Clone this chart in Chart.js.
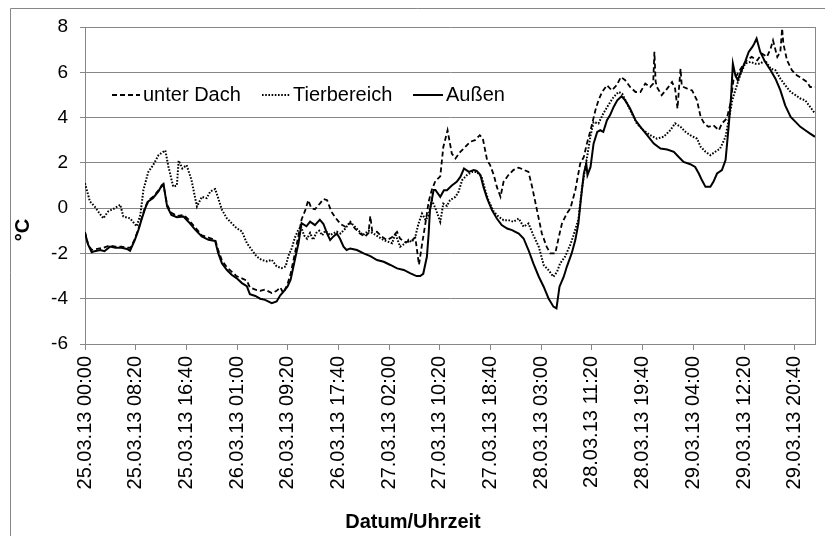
<!DOCTYPE html>
<html>
<head>
<meta charset="utf-8">
<script src="https://cdn.jsdelivr.net/npm/chart.js@4.4.1/dist/chart.umd.min.js"></script>
<style>
  html, body { margin: 0; padding: 0; background: #fff; }
  canvas { display: block; }
</style>
</head>
<body>
<canvas id="myChart" width="825" height="536"></canvas>
<script>
// x tick labels, one every 8:20 h (500 min)
const tickLabels = [
  "25.03.13 00:00", "25.03.13 08:20", "25.03.13 16:40", "26.03.13 01:00",
  "26.03.13 09:20", "26.03.13 17:40", "27.03.13 02:00", "27.03.13 10:20",
  "27.03.13 18:40", "28.03.13 03:00", "28.03.13 11:20", "28.03.13 19:40",
  "29.03.13 04:00", "29.03.13 12:20", "29.03.13 20:40"
];
const tickStepHours = 25 / 3;

// Außen (solid)
const aussenHours = [0, 0.5, 1.1, 1.6, 2.5, 3.2, 4.1, 5.0, 6.0, 6.9, 7.4, 8.2, 8.8, 9.3, 9.9, 10.4, 11.2, 12.1, 12.6, 12.9,
  13.5, 14.2, 15.1, 16.2, 17.0, 18.1, 19.2, 20.3, 21.4, 21.9, 22.5, 23.3, 24.1, 24.9, 25.8, 26.6, 27.1, 28.0, 28.8, 29.6,
  30.7, 31.5, 32.1, 32.6, 33.3, 33.8, 34.5, 35.1, 35.6, 36.4, 37.0, 37.8, 38.6, 39.2, 39.8, 40.3, 40.8, 41.4, 41.9, 42.5,
  43.0, 43.6, 44.7, 45.8, 46.9, 48.0, 49.1, 50.2, 51.3, 52.4, 53.5, 54.5, 55.1, 55.6, 56.2, 56.5, 56.7, 57.0, 57.3, 57.6,
  58.4, 59.0, 59.5, 60.3, 61.1, 61.7, 62.3, 63.1, 63.9, 64.4, 65.0, 65.5, 66.1, 66.9, 67.7, 68.5, 69.4, 70.2, 71.3, 72.1,
  72.9, 73.7, 74.6, 75.4, 76.2, 77.0, 77.5, 78.0, 78.7, 79.2, 80.0, 80.6, 81.1, 81.5, 82.0, 82.4, 82.6, 83.1, 83.6, 84.2,
  84.7, 85.2, 85.8, 86.3, 86.9, 87.5, 88.2, 88.8, 89.6, 90.5, 91.3, 92.4, 93.5, 94.6, 95.7, 96.8, 97.6, 98.4, 99.5, 100.3,
  100.9, 101.4, 102.0, 102.8, 103.3, 103.9, 104.7, 105.3, 105.8, 106.2, 106.5, 106.9, 107.3, 107.8, 108.6, 109.1, 109.7, 110.0, 110.4, 111.0,
  111.8, 112.7, 113.5, 114.3, 115.1, 116.0, 116.8, 117.6, 118.4, 119.2, 120.0];
const aussenTemps = [-1.1, -1.6, -1.95, -1.9, -1.85, -1.9, -1.7, -1.75, -1.75, -1.8, -1.88, -1.4, -0.95, -0.5, 0.0, 0.3, 0.45, 0.75, 1.0, 1.07,
  0.07, -0.3, -0.4, -0.37, -0.6, -0.95, -1.25, -1.4, -1.45, -1.99, -2.43, -2.72, -2.94, -3.09, -3.31, -3.45, -3.8, -3.88, -4.0, -4.05,
  -4.2, -4.12, -3.85, -3.7, -3.46, -3.16, -2.28, -1.54, -0.66, -0.8, -0.6, -0.75, -0.51, -0.7, -1.12, -1.41, -1.26, -1.12, -1.34, -1.7,
  -1.85, -1.78, -1.85, -2.0, -2.12, -2.29, -2.37, -2.51, -2.66, -2.73, -2.88, -3.0, -3.0, -2.9, -2.15, -1.1, -0.1, 0.35, 0.8, 0.8,
  0.5, 0.79, 0.79, 1.0, 1.16, 1.38, 1.75, 1.6, 1.68, 1.65, 1.46, 0.94, 0.43, -0.09, -0.46, -0.75, -0.9, -0.97, -1.12, -1.34,
  -1.85, -2.44, -3.03, -3.47, -3.99, -4.35, -4.43, -3.47, -3.03, -2.59, -2.0, -1.41, -0.68, 0.35, 1.53, 1.97, 1.46, 1.82, 2.85, 3.37,
  3.44, 3.37, 3.88, 4.1, 4.47, 4.76, 4.94, 4.76, 4.4, 3.88, 3.59, 3.22, 2.85, 2.63, 2.59, 2.49, 2.26, 2.04, 1.94, 1.82,
  1.53, 1.24, 0.94, 0.94, 1.16, 1.53, 1.68, 2.12, 3.59, 4.91, 6.38, 5.87, 5.65, 6.01, 6.53, 6.9, 7.12, 7.26, 7.49, 6.9,
  6.46, 6.09, 5.72, 5.21, 4.54, 4.03, 3.81, 3.59, 3.44, 3.29, 3.15];

// unter Dach (dashed)
const dachHours = [0, 0.5, 1.1, 2.0, 3.0, 4.0, 5.0, 6.0, 7.0, 7.5, 8.2, 8.8, 9.3, 9.9, 10.4, 11.2, 12.1, 12.6, 12.9, 13.5,
  14.2, 15.1, 16.2, 17.0, 18.1, 19.2, 20.3, 21.4, 21.9, 22.5, 23.3, 24.1, 24.9, 25.8, 26.6, 27.1, 28.0, 28.8, 29.6, 30.7,
  31.5, 32.1, 32.6, 33.3, 33.8, 34.5, 35.1, 35.6, 36.2, 36.7, 37.2, 37.8, 38.6, 39.2, 39.8, 40.5, 41.1, 42.0, 42.8, 43.6,
  44.4, 45.2, 46.0, 46.6, 46.9, 47.2, 48.0, 48.8, 49.6, 50.4, 51.3, 51.8, 52.6, 53.4, 54.3, 54.9, 55.4, 56.0, 56.5, 57.0,
  57.6, 58.4, 58.9, 59.6, 60.3, 60.9, 61.7, 62.5, 63.3, 64.1, 64.9, 65.4, 66.1, 66.6, 67.2, 67.7, 68.3, 68.8, 69.6, 70.4,
  71.3, 72.1, 72.9, 73.5, 74.3, 75.1, 75.9, 76.5, 77.3, 77.9, 78.4, 79.2, 79.8, 80.6, 81.4, 82.0, 82.5, 83.1, 83.9, 84.4,
  85.0, 85.8, 86.6, 87.4, 88.1, 88.8, 89.6, 90.5, 91.3, 92.1, 92.9, 93.4, 93.6, 93.8, 94.0, 94.8, 95.7, 96.5, 97.0, 97.4,
  97.7, 97.9, 98.1, 98.4, 99.0, 99.8, 100.6, 101.2, 101.8, 102.5, 103.3, 104.2, 104.7, 105.5, 106.1, 106.6, 107.3, 108.0, 108.8, 109.6,
  110.5, 111.3, 112.1, 112.7, 113.1, 113.8, 114.3, 114.6, 114.8, 115.4, 116.2, 117.0, 117.9, 118.7, 119.2, 120.0];
const dachTemps = [-1.05, -1.6, -1.85, -1.8, -1.75, -1.65, -1.7, -1.7, -1.75, -1.75, -1.35, -0.9, -0.45, 0.05, 0.35, 0.5, 0.8, 0.95, 1.02, 0.15,
  -0.2, -0.35, -0.3, -0.5, -0.85, -1.2, -1.3, -1.4, -1.85, -2.3, -2.6, -2.8, -3.0, -3.1, -3.2, -3.5, -3.6, -3.65, -3.6, -3.75,
  -3.65, -3.5, -3.75, -3.35, -2.9, -2.0, -1.2, -0.5, -0.1, 0.35, 0.0, -0.05, 0.2, 0.4, 0.35, -0.15, -0.4, -0.7, -0.82, -0.65,
  -0.9, -1.12, -1.26, -1.1, -0.35, -1.0, -1.05, -1.26, -1.41, -1.3, -1.05, -1.35, -1.5, -1.48, -1.3, -2.5, -1.6, -0.6, 0.3, 0.8,
  1.2, 1.4, 2.7, 3.44, 2.41, 2.19, 2.49, 2.7, 2.93, 3.0, 3.22, 3.07, 2.12, 1.9, 1.46, 0.94, 0.5, 1.16, 1.46, 1.68,
  1.79, 1.7, 1.6, 0.94, -0.09, -1.12, -1.71, -2.0, -2.0, -1.26, -0.68, -0.24, 0.0, 0.79, 1.97, 2.26, 2.85, 3.44, 4.32, 4.76,
  5.13, 5.43, 5.2, 5.43, 5.79, 5.65, 5.35, 5.13, 5.13, 5.5, 5.35, 5.5, 6.9, 5.6, 5.35, 4.99, 5.28, 5.57, 5.28, 4.4,
  5.5, 6.16, 5.4, 5.35, 5.28, 5.2, 4.76, 4.03, 3.74, 3.59, 3.66, 3.44, 3.74, 3.96, 4.62, 5.65, 5.94, 6.24, 6.53, 6.68,
  6.53, 6.82, 6.68, 7.04, 7.41, 6.68, 6.9, 7.93, 7.26, 6.53, 6.09, 5.87, 5.72, 5.57, 5.35, 5.35];

// Tierbereich (dotted)
const tierHours = [0, 0.8, 1.6, 2.3, 3.0, 3.8, 4.9, 5.8, 6.3, 7.4, 8.5, 9.1, 9.6, 10.4, 11.2, 12.1, 13.2, 13.7, 14.5, 15.1,
  15.4, 16.0, 16.7, 17.5, 18.4, 19.2, 20.0, 20.6, 21.4, 21.9, 22.5, 23.3, 24.1, 24.9, 25.8, 26.6, 27.4, 28.2, 29.0, 29.9,
  30.7, 31.5, 32.3, 33.0, 33.4, 34.0, 34.5, 35.0, 35.5, 36.0, 36.5, 37.0, 37.5, 38.0, 38.5, 39.0, 39.5, 40.3, 41.4, 42.0,
  42.8, 43.6, 44.1, 44.9, 45.7, 46.6, 47.4, 48.2, 49.1, 49.9, 50.5, 51.0, 51.8, 52.6, 53.2, 53.7, 54.3, 54.8, 55.4, 56.0,
  56.5, 57.0, 57.6, 58.4, 58.9, 59.5, 60.0, 60.9, 61.4, 62.0, 62.8, 63.6, 64.4, 65.2, 65.8, 66.3, 67.2, 68.0, 68.8, 69.6,
  70.4, 71.3, 72.1, 72.9, 73.7, 74.6, 75.4, 76.2, 77.0, 77.6, 78.1, 78.9, 79.8, 80.3, 81.1, 81.7, 82.5, 83.1, 83.6, 84.4,
  85.2, 86.0, 86.9, 87.7, 88.3, 89.1, 89.9, 90.7, 91.8, 92.9, 94.0, 95.1, 96.2, 97.0, 97.9, 98.7, 99.5, 100.6, 101.2, 102.0,
  102.8, 103.6, 104.4, 105.3, 105.8, 106.4, 106.9, 107.7, 108.5, 109.4, 110.2, 111.0, 111.8, 112.7, 113.5, 114.3, 115.1, 116.0, 116.8, 117.6,
  118.4, 119.2, 120.0];
const tierTemps = [1.1, 0.3, 0.07, -0.2, -0.45, -0.15, 0.0, 0.15, -0.37, -0.45, -0.8, -0.3, 0.8, 1.6, 1.9, 2.35, 2.55, 1.85, 0.95, 1.0,
  2.1, 1.75, 1.9, 1.25, 0.07, 0.5, 0.44, 0.74, 0.84, 0.44, -0.07, -0.44, -0.66, -0.88, -1.03, -1.54, -1.84, -2.13, -2.28, -2.35,
  -2.28, -2.57, -2.65, -2.57, -2.13, -1.76, -1.3, -1.0, -0.8, -1.2, -1.35, -1.1, -1.4, -1.1, -1.0, -1.2, -1.0, -1.19, -1.04, -1.12,
  -0.9, -0.6, -0.75, -0.97, -1.19, -1.0, -1.12, -1.26, -1.41, -1.49, -1.55, -1.12, -1.7, -1.56, -1.4, -1.5, -1.26, -0.7, -0.24, -0.53,
  -0.3, 0.35, 0.0, -0.6, 0.2, 0.1, 0.35, 0.5, 0.72, 1.24, 1.46, 1.6, 1.6, 1.38, 0.79, 0.35, -0.16, -0.38, -0.53, -0.53,
  -0.6, -0.46, -0.82, -0.68, -1.19, -1.71, -2.51, -2.74, -3.03, -2.81, -2.44, -2.15, -1.6, -1.2, -0.5, 0.9, 2.2, 3.2, 3.8, 3.74,
  4.18, 4.54, 4.91, 5.13, 5.06, 4.62, 4.18, 3.74, 3.44, 3.22, 3.07, 3.15, 3.44, 3.74, 3.59, 3.37, 3.22, 3.07, 2.71, 2.49,
  2.34, 2.49, 2.63, 3.15, 3.88, 4.76, 5.21, 5.87, 6.38, 6.46, 6.38, 6.38, 6.53, 6.16, 6.09, 5.72, 5.43, 5.13, 4.99, 4.84,
  4.76, 4.47, 4.18];

const gridColor = '#878787';
const fontFamily = "'Liberation Sans', Arial, sans-serif";

const toPoints = (hours, temps) => hours.map((h, i) => ({ x: h, y: temps[i] }));

// legend inside the plot, axis titles and the outer chart border
const extras = {
  id: 'extras',
  afterDraw(chart) {
    const ctx = chart.ctx;
    const area = chart.chartArea;
    ctx.save();
    ctx.strokeStyle = gridColor;
    ctx.lineWidth = 1;
    ctx.beginPath();
    ctx.moveTo(10.5, 536);
    ctx.lineTo(10.5, 8.5);
    ctx.lineTo(825, 8.5);
    ctx.stroke();
    ctx.beginPath();
    ctx.moveTo(Math.round(area.right) + 0.5, area.top);
    ctx.lineTo(Math.round(area.right) + 0.5, area.bottom);
    ctx.stroke();

    // legend
    const ly = 95;
    const items = [
      { x: 112, w: 28, ds: chart.data.datasets[0] },
      { x: 262, w: 28, ds: chart.data.datasets[1] },
      { x: 413, w: 30, ds: chart.data.datasets[2] }
    ];
    ctx.font = '20px ' + fontFamily;
    ctx.fillStyle = '#000';
    ctx.textBaseline = 'middle';
    ctx.textAlign = 'left';
    items.forEach(it => {
      ctx.strokeStyle = '#000';
      ctx.lineWidth = it.ds.borderWidth;
      ctx.setLineDash(it.ds.borderDash || []);
      ctx.beginPath();
      ctx.moveTo(it.x, ly);
      ctx.lineTo(it.x + it.w, ly);
      ctx.stroke();
      ctx.setLineDash([]);
      ctx.fillText(it.ds.label, it.x + it.w + 3, ly);
    });

    // axis titles
    ctx.font = 'bold 20px ' + fontFamily;
    ctx.textAlign = 'center';
    ctx.fillText('Datum/Uhrzeit', 413, 522);
    ctx.translate(23, 230);
    ctx.rotate(-Math.PI / 2);
    ctx.fillText('°C', 0, 0);
    ctx.restore();
  }
};

const ctx = document.getElementById('myChart').getContext('2d');
const myChart = new Chart(ctx, {
  type: 'line',
  data: {
    datasets: [
      {
        label: 'unter Dach',
        data: toPoints(dachHours, dachTemps),
        borderColor: '#000',
        borderWidth: 1.8,
        borderDash: [5, 3],
        pointRadius: 0,
        tension: 0,
        fill: false
      },
      {
        label: 'Tierbereich',
        data: toPoints(tierHours, tierTemps),
        borderColor: '#000',
        borderWidth: 2,
        borderDash: [1.6, 1.6],
        pointRadius: 0,
        tension: 0,
        fill: false
      },
      {
        label: 'Außen',
        data: toPoints(aussenHours, aussenTemps),
        borderColor: '#000',
        borderWidth: 2,
        pointRadius: 0,
        tension: 0,
        fill: false
      }
    ]
  },
  options: {
    responsive: false,
    animation: false,
    layout: { padding: { top: 27, right: 10, left: 0, bottom: 0 } },
    plugins: {
      legend: { display: false },
      tooltip: { enabled: false }
    },
    scales: {
      x: {
        type: 'linear',
        min: 0,
        max: 120,
        afterBuildTicks: (scale) => {
          scale.ticks = tickLabels.map((t, i) => ({ value: i * tickStepHours }));
        },
        afterFit: (scale) => {
          scale.height = 192;
          scale.paddingLeft = 0;
          scale.paddingRight = 0;
        },
        grid: { drawOnChartArea: false, drawTicks: true, tickLength: 6, color: gridColor },
        border: { display: true, color: gridColor },
        ticks: {
          autoSkip: false,
          maxRotation: 90,
          minRotation: 90,
          padding: 6,
          color: '#000',
          font: { family: fontFamily, size: 20 },
          callback: (value, index) => tickLabels[index]
        }
      },
      y: {
        min: -6,
        max: 8,
        afterFit: (scale) => {
          scale.width = 85;
          scale.paddingTop = 0;
          scale.paddingBottom = 0;
        },
        grid: { color: gridColor, tickLength: 5 },
        border: { display: true, color: gridColor },
        ticks: {
          stepSize: 2,
          padding: 12,
          color: '#000',
          font: { family: fontFamily, size: 19 }
        }
      }
    }
  },
  plugins: [extras]
});
</script>
</body>
</html>
